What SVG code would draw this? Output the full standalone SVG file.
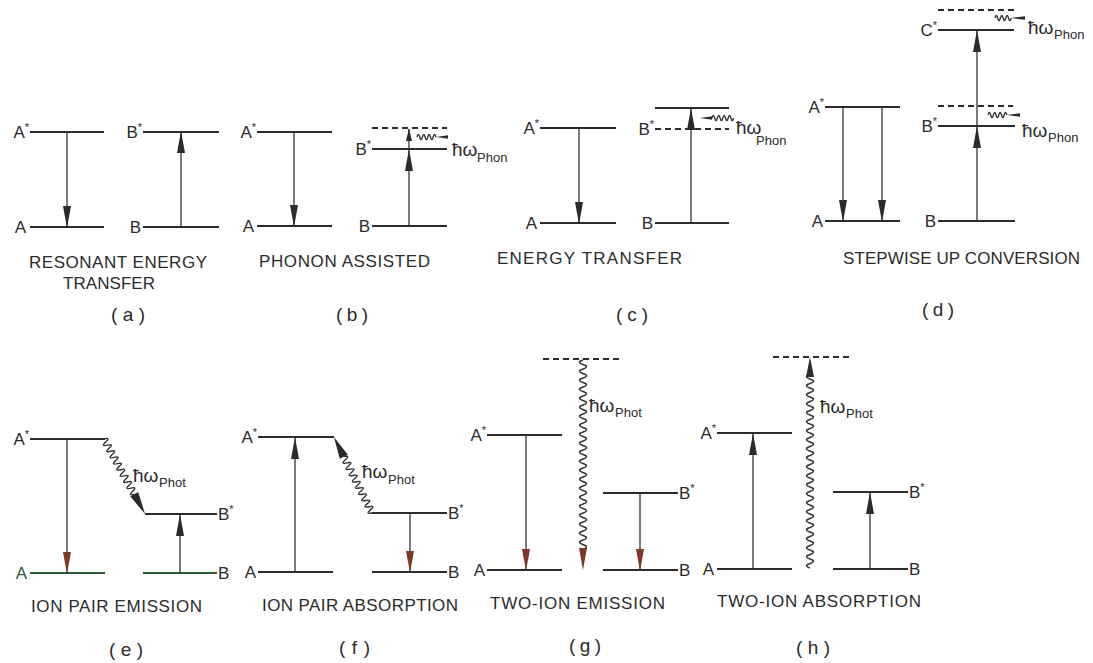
<svg xmlns="http://www.w3.org/2000/svg" width="1093" height="663" viewBox="0 0 1093 663">
<style>
.lv{stroke:#2b2b2b;stroke-width:2;fill:none}
.lg{stroke:#2f5a33;stroke-width:2;fill:none}
.dl{stroke:#2b2b2b;stroke-width:2;stroke-dasharray:6 4;fill:none}
.ar{stroke:#333;stroke-width:1.3;fill:none;marker-end:url(#ah)}
.arr{stroke:#333;stroke-width:1.3;fill:none;marker-end:url(#ahr)}
.ars{stroke:#333;stroke-width:1.3;fill:none;marker-end:url(#ahs)}
.wv{stroke:#333;stroke-width:1.4;fill:none}
.hd{fill:#2b2b2b}
.hr{fill:#7a3a2c}
text{font-family:"Liberation Sans",Arial,sans-serif;fill:#2b2b2b}
.lb{font-size:17px}
.st{font-size:11px}
.cap{font-size:17px}
.par{font-size:19px}
.hw{font-size:19px}
.sub{font-size:13px}
</style>
<defs>
<marker id="ah" markerUnits="userSpaceOnUse" markerWidth="22" markerHeight="9" viewBox="0 0 22 9" refX="21" refY="4.5" orient="auto"><path d="M0,0.5 L22,4.5 L0,8.5 Z" fill="#2b2b2b"/></marker>
<marker id="ahr" markerUnits="userSpaceOnUse" markerWidth="22" markerHeight="9" viewBox="0 0 22 9" refX="21" refY="4.5" orient="auto"><path d="M0,0.5 L22,4.5 L0,8.5 Z" fill="#7a3a2c"/></marker>
<marker id="ahs" markerUnits="userSpaceOnUse" markerWidth="13" markerHeight="7" viewBox="0 0 13 7" refX="12" refY="3.5" orient="auto"><path d="M0,0.5 L13,3.5 L0,6.5 Z" fill="#2b2b2b"/></marker>
</defs>
<rect width="1093" height="663" fill="#ffffff"/>

<!-- Panel (a) -->
<g id="a-Astar"><line class="lv" x1="30" y1="132" x2="104" y2="132"/><text class="lb" x="29" y="138" text-anchor="end">A<tspan class="st" dy="-7">*</tspan></text></g>
<g id="a-A"><line class="lv" x1="30" y1="227" x2="104" y2="227"/><text class="lb" x="26" y="233" text-anchor="end">A</text></g>
<g id="a-Bstar"><line class="lv" x1="143" y1="132" x2="219" y2="132"/><text class="lb" x="142" y="138" text-anchor="end">B<tspan class="st" dy="-7">*</tspan></text></g>
<g id="a-B"><line class="lv" x1="143" y1="227" x2="219" y2="227"/><text class="lb" x="141" y="233" text-anchor="end">B</text></g>
<g id="a-caption"><text class="cap" x="29" y="268" textLength="178" lengthAdjust="spacing">RESONANT ENERGY</text><text class="cap" x="63" y="289" textLength="92" lengthAdjust="spacing">TRANSFER</text><text class="par" x="111" y="321" textLength="34" lengthAdjust="spacing">(a)</text></g>

<!-- Panel (b) -->
<g id="b-Astar"><line class="lv" x1="257" y1="132" x2="332" y2="132"/><text class="lb" x="256" y="138" text-anchor="end">A<tspan class="st" dy="-7">*</tspan></text></g>
<g id="b-A"><line class="lv" x1="257" y1="226" x2="332" y2="226"/><text class="lb" x="254" y="232" text-anchor="end">A</text></g>
<g id="b-virtual"><line class="dl" x1="372" y1="128" x2="447" y2="128"/></g>
<g id="b-Bstar"><line class="lv" x1="372" y1="149" x2="447" y2="149"/><text class="lb" x="371" y="155" text-anchor="end">B<tspan class="st" dy="-7">*</tspan></text></g>
<g id="b-B"><line class="lv" x1="372" y1="226" x2="447" y2="226"/><text class="lb" x="370" y="232" text-anchor="end">B</text></g>
<g id="b-phonon"><text class="hw" x="452" y="156">ħω</text><text class="sub" x="477" y="162">Phon</text></g>
<g id="b-caption"><text class="cap" x="259" y="267" textLength="171" lengthAdjust="spacing">PHONON ASSISTED</text><text class="par" x="336" y="321" textLength="32" lengthAdjust="spacing">(b)</text></g>

<!-- Panel (c) -->
<g id="c-Astar"><line class="lv" x1="540" y1="128" x2="616" y2="128"/><text class="lb" x="539" y="134" text-anchor="end">A<tspan class="st" dy="-7">*</tspan></text></g>
<g id="c-A"><line class="lv" x1="540" y1="223" x2="616" y2="223"/><text class="lb" x="537" y="229" text-anchor="end">A</text></g>
<g id="c-top"><line class="lv" x1="655" y1="108" x2="729" y2="108"/></g>
<g id="c-Bstar"><line class="dl" x1="655" y1="129" x2="729" y2="129"/><text class="lb" x="654" y="135" text-anchor="end">B<tspan class="st" dy="-7">*</tspan></text></g>
<g id="c-B"><line class="lv" x1="655" y1="223" x2="729" y2="223"/><text class="lb" x="653" y="229" text-anchor="end">B</text></g>
<g id="c-phonon"><text class="hw" x="736" y="134">ħω</text><text class="sub" x="756" y="145">Phon</text></g>
<g id="c-caption"><text class="cap" x="497" y="264" textLength="185" lengthAdjust="spacing">ENERGY TRANSFER</text><text class="par" x="616" y="321" textLength="32" lengthAdjust="spacing">(c)</text></g>

<!-- Panel (d) -->
<g id="d-virtual2"><line class="dl" x1="938" y1="10" x2="1017" y2="10"/></g>
<g id="d-Cstar"><line class="lv" x1="938" y1="30" x2="1014" y2="30"/><text class="lb" x="937" y="36" text-anchor="end">C<tspan class="st" dy="-7">*</tspan></text></g>
<g id="d-Astar"><line class="lv" x1="825" y1="107" x2="900" y2="107"/><text class="lb" x="824" y="113" text-anchor="end">A<tspan class="st" dy="-7">*</tspan></text></g>
<g id="d-A"><line class="lv" x1="825" y1="221" x2="900" y2="221"/><text class="lb" x="823" y="227" text-anchor="end">A</text></g>
<g id="d-virtual1"><line class="dl" x1="938" y1="106" x2="1013" y2="106"/></g>
<g id="d-Bstar"><line class="lv" x1="938" y1="126" x2="1015" y2="126"/><text class="lb" x="937" y="132" text-anchor="end">B<tspan class="st" dy="-7">*</tspan></text></g>
<g id="d-B"><line class="lv" x1="938" y1="221" x2="1015" y2="221"/><text class="lb" x="936" y="227" text-anchor="end">B</text></g>
<g id="d-phonon1"><text class="hw" x="1028" y="34">ħω</text><text class="sub" x="1054" y="39">Phon</text></g>
<g id="d-phonon2"><text class="hw" x="1022" y="137">ħω</text><text class="sub" x="1048" y="142">Phon</text></g>
<g id="d-caption"><text class="cap" x="843" y="264" textLength="237" lengthAdjust="spacing">STEPWISE UP CONVERSION</text><text class="par" x="922" y="316" textLength="32" lengthAdjust="spacing">(d)</text></g>

<!-- Panel (e) -->
<g id="e-Astar"><line class="lv" x1="30" y1="439" x2="105" y2="439"/><text class="lb" x="29" y="445" text-anchor="end">A<tspan class="st" dy="-7">*</tspan></text></g>
<g id="e-A"><line class="lg" x1="30" y1="573" x2="105" y2="573"/><text class="lb" x="27" y="579" text-anchor="end" style="fill:#2f5a33">A</text></g>
<g id="e-Bstar"><line class="lv" x1="145" y1="514" x2="217" y2="514"/><text class="lb" x="218" y="520">B<tspan class="st" dy="-7">*</tspan></text></g>
<g id="e-B"><line class="lg" x1="143" y1="573" x2="217" y2="573"/><text class="lb" x="218" y="579">B</text></g>
<g id="e-photon"><text class="hw" x="133" y="482">ħω</text><text class="sub" x="159" y="487">Phot</text></g>
<g id="e-caption"><text class="cap" x="31" y="612" textLength="171" lengthAdjust="spacing">ION PAIR EMISSION</text><text class="par" x="109" y="656" textLength="34" lengthAdjust="spacing">(e)</text></g>

<!-- Panel (f) -->
<g id="f-Astar"><line class="lv" x1="258" y1="437" x2="334" y2="437"/><text class="lb" x="257" y="443" text-anchor="end">A<tspan class="st" dy="-7">*</tspan></text></g>
<g id="f-A"><line class="lv" x1="258" y1="572" x2="333" y2="572"/><text class="lb" x="256" y="578" text-anchor="end">A</text></g>
<g id="f-Bstar"><line class="lv" x1="372" y1="513" x2="447" y2="513"/><text class="lb" x="448" y="519">B<tspan class="st" dy="-7">*</tspan></text></g>
<g id="f-B"><line class="lv" x1="372" y1="572" x2="447" y2="572"/><text class="lb" x="448" y="578">B</text></g>
<g id="f-photon"><text class="hw" x="362" y="478">ħω</text><text class="sub" x="388" y="484">Phot</text></g>
<g id="f-caption"><text class="cap" x="262" y="611" textLength="196" lengthAdjust="spacing">ION PAIR ABSORPTION</text><text class="par" x="339" y="654" textLength="31" lengthAdjust="spacing">(f)</text></g>

<!-- Panel (g) -->
<g id="g-virtual"><line class="dl" x1="543" y1="359" x2="619" y2="359"/></g>
<g id="g-Astar"><line class="lv" x1="487" y1="435" x2="562" y2="435"/><text class="lb" x="486" y="441" text-anchor="end">A<tspan class="st" dy="-7">*</tspan></text></g>
<g id="g-A"><line class="lv" x1="487" y1="570" x2="562" y2="570"/><text class="lb" x="485" y="576" text-anchor="end">A</text></g>
<g id="g-Bstar"><line class="lv" x1="603" y1="493" x2="678" y2="493"/><text class="lb" x="679" y="499">B<tspan class="st" dy="-7">*</tspan></text></g>
<g id="g-B"><line class="lv" x1="603" y1="570" x2="678" y2="570"/><text class="lb" x="679" y="576">B</text></g>
<g id="g-photon"><text class="hw" x="589" y="412">ħω</text><text class="sub" x="615" y="417">Phot</text></g>
<g id="g-caption"><text class="cap" x="490" y="609" textLength="175" lengthAdjust="spacing">TWO-ION EMISSION</text><text class="par" x="569" y="652" textLength="32" lengthAdjust="spacing">(g)</text></g>

<!-- Panel (h) -->
<g id="h-virtual"><line class="dl" x1="773" y1="357" x2="849" y2="357"/></g>
<g id="h-Astar"><line class="lv" x1="717" y1="433" x2="792" y2="433"/><text class="lb" x="716" y="439" text-anchor="end">A<tspan class="st" dy="-7">*</tspan></text></g>
<g id="h-A"><line class="lv" x1="717" y1="569" x2="792" y2="569"/><text class="lb" x="714" y="575" text-anchor="end">A</text></g>
<g id="h-Bstar"><line class="lv" x1="833" y1="492" x2="908" y2="492"/><text class="lb" x="909" y="498">B<tspan class="st" dy="-7">*</tspan></text></g>
<g id="h-B"><line class="lv" x1="833" y1="569" x2="908" y2="569"/><text class="lb" x="909" y="575">B</text></g>
<g id="h-photon"><text class="hw" x="820" y="413">ħω</text><text class="sub" x="846" y="418">Phot</text></g>
<g id="h-caption"><text class="cap" x="717" y="607" textLength="204" lengthAdjust="spacing">TWO-ION ABSORPTION</text><text class="par" x="796" y="654" textLength="34" lengthAdjust="spacing">(h)</text></g>

<!-- Connectors -->
<g id="connectors">
<!-- a -->
<line class="ar" x1="67" y1="132" x2="67" y2="227"/>
<line class="ar" x1="181" y1="227" x2="181" y2="132"/>
<!-- b -->
<line class="ar" x1="294" y1="132" x2="294" y2="226"/>
<line class="ar" x1="409" y1="226" x2="409" y2="150"/>
<line class="ars" x1="409" y1="149" x2="409" y2="129"/>
<path class="wv" d="M417,137 q1.35,-5 2.7,0 t2.7,0 t2.7,0 t2.7,0 t2.7,0 t2.7,0 t2.7,0"/>
<polygon class="hd" points="436,137 448,135.2 448,138.8"/>
<!-- c -->
<line class="ar" x1="691" y1="223" x2="691" y2="109"/>
<line class="ar" x1="579" y1="128" x2="579" y2="223"/>
<polygon class="hd" points="700,118 712,116.2 712,119.8"/>
<path class="wv" d="M712,118 q1.35,-5 2.7,0 t2.7,0 t2.7,0 t2.7,0 t2.7,0 t2.7,0 t2.7,0 t2.7,0"/>
<!-- d -->
<line class="ar" x1="843" y1="107" x2="843" y2="221"/>
<line class="ar" x1="882" y1="107" x2="882" y2="221"/>
<line class="ar" x1="977" y1="221" x2="977" y2="127"/>
<line class="ar" x1="977" y1="126" x2="977" y2="31"/>
<path class="wv" d="M995,18 q1.35,-5 2.7,0 t2.7,0 t2.7,0 t2.7,0 t2.7,0 t2.7,0"/>
<polygon class="hd" points="1011,18 1025,16.2 1025,19.8"/>
<path class="wv" d="M988,115 q1.35,-5 2.7,0 t2.7,0 t2.7,0 t2.7,0 t2.7,0 t2.7,0 t2.7,0"/>
<polygon class="hd" points="1007,115 1020,113.2 1020,116.8"/>
<!-- e -->
<line class="arr" x1="67" y1="439" x2="67" y2="573"/>
<line class="ar" x1="180" y1="573" x2="180" y2="515"/>
<g transform="translate(104,439) rotate(61.3)">
<path class="wv" d="M0,0 q1.75,-7 3.5,0 t3.5,0 t3.5,0 t3.5,0 t3.5,0 t3.5,0 t3.5,0 t3.5,0 t3.5,0 t3.5,0 t3.5,0 t3.5,0 t3.5,0 t3.5,0 t3.5,0 t3.5,0 t3.5,0 t3.5,0"/>
<polygon class="hd" points="85.5,0 63,-4.5 63,4.5"/>
</g>
<!-- f -->
<line class="ar" x1="295" y1="572" x2="295" y2="438"/>
<line class="arr" x1="410" y1="513" x2="410" y2="572"/>
<g transform="translate(372,513) rotate(-116.6)">
<path class="wv" d="M0,0 q1.75,-7 3.5,0 t3.5,0 t3.5,0 t3.5,0 t3.5,0 t3.5,0 t3.5,0 t3.5,0 t3.5,0 t3.5,0 t3.5,0 t3.5,0 t3.5,0 t3.5,0 t3.5,0 t3.5,0 t3.5,0 t3.5,0"/>
<polygon class="hd" points="85,0 63,-4.5 63,4.5"/>
</g>
<!-- g -->
<line class="arr" x1="526" y1="435" x2="526" y2="570"/>
<line class="arr" x1="640" y1="493" x2="640" y2="570"/>
<path class="wv" d="M583,360 q-7,2.25 0,4.5 t0,4.5 t0,4.5 t0,4.5 t0,4.5 t0,4.5 t0,4.5 t0,4.5 t0,4.5 t0,4.5 t0,4.5 t0,4.5 t0,4.5 t0,4.5 t0,4.5 t0,4.5 t0,4.5 t0,4.5 t0,4.5 t0,4.5 t0,4.5 t0,4.5 t0,4.5 t0,4.5 t0,4.5 t0,4.5 t0,4.5 t0,4.5 t0,4.5 t0,4.5 t0,4.5 t0,4.5 t0,4.5 t0,4.5 t0,4.5 t0,4.5 t0,4.5 t0,4.5 t0,4.5 t0,4.5 t0,4.5 t0,4.5"/>
<polygon class="hr" points="583,570 579,548 587,548"/>
<!-- h -->
<line class="ar" x1="753" y1="569" x2="753" y2="434"/>
<line class="ar" x1="870" y1="569" x2="870" y2="493"/>
<path class="wv" d="M810,568 q-7,-2.25 0,-4.5 t0,-4.5 t0,-4.5 t0,-4.5 t0,-4.5 t0,-4.5 t0,-4.5 t0,-4.5 t0,-4.5 t0,-4.5 t0,-4.5 t0,-4.5 t0,-4.5 t0,-4.5 t0,-4.5 t0,-4.5 t0,-4.5 t0,-4.5 t0,-4.5 t0,-4.5 t0,-4.5 t0,-4.5 t0,-4.5 t0,-4.5 t0,-4.5 t0,-4.5 t0,-4.5 t0,-4.5 t0,-4.5 t0,-4.5 t0,-4.5 t0,-4.5 t0,-4.5 t0,-4.5 t0,-4.5 t0,-4.5 t0,-4.5 t0,-4.5 t0,-4.5 t0,-4.5 t0,-4.5 t0,-4.5 t0,-4.5"/>
<polygon class="hd" points="810,357 806,377 814,377"/>
</g>
</svg>
